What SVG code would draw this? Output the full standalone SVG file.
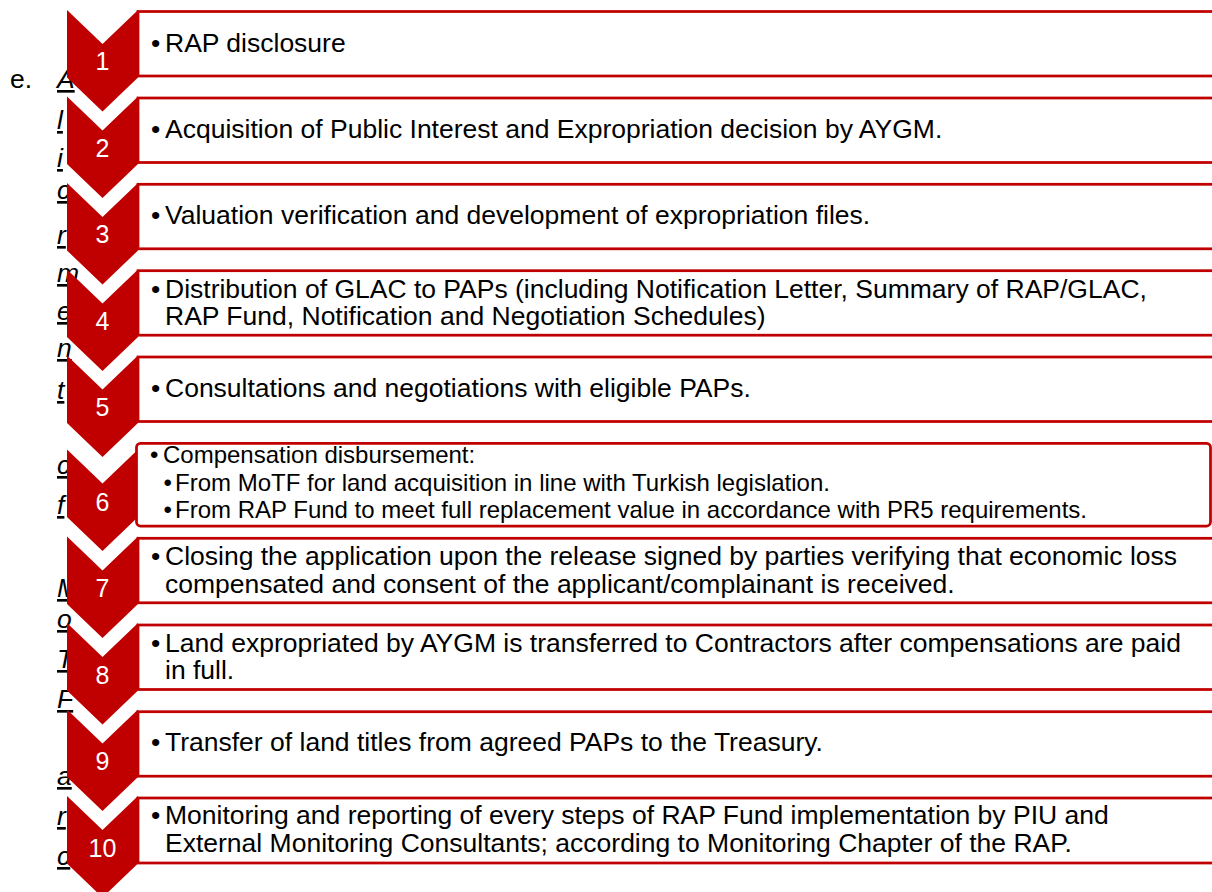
<svg xmlns="http://www.w3.org/2000/svg" xmlns:xlink="http://www.w3.org/1999/xlink" width="1212" height="892" viewBox="0 0 1212 892">
  <style>
    .box { fill: #ffffff; stroke: #C00000; stroke-width: 2.75; }
    .chev { fill: #C00000; }
    .num { font-family: "Liberation Sans", Arial, sans-serif; font-size: 25px; fill: #ffffff; text-anchor: middle; }
    .txt { font-family: "Liberation Sans", Arial, sans-serif; font-size: 26.5px; fill: #000000; }
    .sm { font-size: 24px; }
    .bg { font-family: "Liberation Sans", Arial, sans-serif; font-size: 26.5px; fill: #000000; }
    .ul { font-style: italic; text-decoration: underline; }
  </style>
  <defs>
    <!-- downward chevron, 71 wide, 101.5 tall -->
    <path id="chev" class="chev" d="M0,0 L35.5,34 L71,0 L71,67.5 L35.5,101.5 L0,67.5 Z"/>
  </defs>

  <rect width="1212" height="892" fill="#ffffff"/>

  <!-- underlying document text, mostly hidden behind the chevrons -->
  <g id="doc-text" class="bg">
    <text x="10" y="88">e.</text>
    <text class="ul" x="57" y="88">A</text>
    <text class="ul" x="57" y="129">l</text>
    <text class="ul" x="57" y="167">i</text>
    <text class="ul" x="57" y="199">c</text>
    <text class="ul" x="57" y="244">r</text>
    <text class="ul" x="57" y="282">m</text>
    <text class="ul" x="57" y="320">e</text>
    <text class="ul" x="57" y="357">n</text>
    <text class="ul" x="57" y="399">t</text>
    <text class="ul" x="57" y="474">c</text>
    <text class="ul" x="57" y="514">f</text>
    <text class="ul" x="57" y="597">M</text>
    <text class="ul" x="57" y="628">o</text>
    <text class="ul" x="57" y="668">T</text>
    <text class="ul" x="57" y="708">F</text>
    <text class="ul" x="57" y="785">a</text>
    <text class="ul" x="57" y="825">r</text>
    <text class="ul" x="57" y="865">c</text>
  </g>

  <g id="step1">
    <rect class="box" x="138" y="11.5" width="1090" height="64.5"/>
    <use xlink:href="#chev" x="67" y="10"/>
    <text class="num" x="102.5" y="70">1</text>
    <text class="txt" y="51.5"><tspan x="151">•</tspan><tspan x="165">RAP disclosure</tspan></text>
  </g>

  <g id="step2">
    <rect class="box" x="138" y="98" width="1090" height="64.5"/>
    <use xlink:href="#chev" x="67" y="96.5"/>
    <text class="num" x="102.5" y="156.5">2</text>
    <text class="txt" y="137.7"><tspan x="151">•</tspan><tspan x="165">Acquisition of Public Interest and Expropriation decision by AYGM.</tspan></text>
  </g>

  <g id="step3">
    <rect class="box" x="138" y="184.3" width="1090" height="64.5"/>
    <use xlink:href="#chev" x="67" y="183"/>
    <text class="num" x="102.5" y="243">3</text>
    <text class="txt" y="224"><tspan x="151">•</tspan><tspan x="165">Valuation verification and development of expropriation files.</tspan></text>
  </g>

  <g id="step4">
    <rect class="box" x="138" y="270.7" width="1090" height="64.5"/>
    <use xlink:href="#chev" x="67" y="269.5"/>
    <text class="num" x="102.5" y="329.5">4</text>
    <text class="txt" y="297.5"><tspan x="151">•</tspan><tspan x="165">Distribution of GLAC to PAPs (including Notification Letter, Summary of RAP/GLAC,</tspan></text>
    <text class="txt" x="165" y="325">RAP Fund, Notification and Negotiation Schedules)</text>
  </g>

  <g id="step5">
    <rect class="box" x="138" y="357" width="1090" height="64.5"/>
    <use xlink:href="#chev" x="67" y="355.5"/>
    <text class="num" x="102.5" y="415.5">5</text>
    <text class="txt" y="396.7"><tspan x="151">•</tspan><tspan x="165">Consultations and negotiations with eligible PAPs.</tspan></text>
  </g>

  <g id="step6">
    <use xlink:href="#chev" x="67" y="449.5"/>
    <rect class="box" x="136.5" y="443.3" width="1074" height="82.7" rx="4"/>
    <text class="num" x="102.5" y="510.5">6</text>
    <text class="txt sm" y="462.5"><tspan x="150">•</tspan><tspan x="163">Compensation disbursement:</tspan></text>
    <text class="txt sm" y="491"><tspan x="163.5">•</tspan><tspan x="175">From MoTF for land acquisition in line with Turkish legislation.</tspan></text>
    <text class="txt sm" y="518"><tspan x="163.5">•</tspan><tspan x="175">From RAP Fund to meet full replacement value in accordance with PR5 requirements.</tspan></text>
  </g>

  <g id="step7">
    <rect class="box" x="138" y="538.3" width="1090" height="64.5"/>
    <use xlink:href="#chev" x="67" y="536.5"/>
    <text class="num" x="102.5" y="597">7</text>
    <text class="txt" y="565"><tspan x="151">•</tspan><tspan x="165">Closing the application upon the release signed by parties verifying that economic loss</tspan></text>
    <text class="txt" x="165" y="592.5">compensated and consent of the applicant/complainant is received.</text>
  </g>

  <g id="step8">
    <rect class="box" x="138" y="625" width="1090" height="64.5"/>
    <use xlink:href="#chev" x="67" y="623"/>
    <text class="num" x="102.5" y="683.5">8</text>
    <text class="txt" y="651.7"><tspan x="151">•</tspan><tspan x="165">Land expropriated by AYGM is transferred to Contractors after compensations are paid</tspan></text>
    <text class="txt" x="165" y="679">in full.</text>
  </g>

  <g id="step9">
    <rect class="box" x="138" y="711.7" width="1090" height="64.5"/>
    <use xlink:href="#chev" x="67" y="709.5"/>
    <text class="num" x="102.5" y="770">9</text>
    <text class="txt" y="751"><tspan x="151">•</tspan><tspan x="165">Transfer of land titles from agreed PAPs to the Treasury.</tspan></text>
  </g>

  <g id="step10">
    <rect class="box" x="138" y="798" width="1090" height="65"/>
    <use xlink:href="#chev" x="67" y="796"/>
    <text class="num" x="102.5" y="856.5">10</text>
    <text class="txt" y="824"><tspan x="151">•</tspan><tspan x="165">Monitoring and reporting of every steps of RAP Fund implementation by PIU and</tspan></text>
    <text class="txt" x="165" y="852">External Monitoring Consultants; according to Monitoring Chapter of the RAP.</text>
  </g>
</svg>
